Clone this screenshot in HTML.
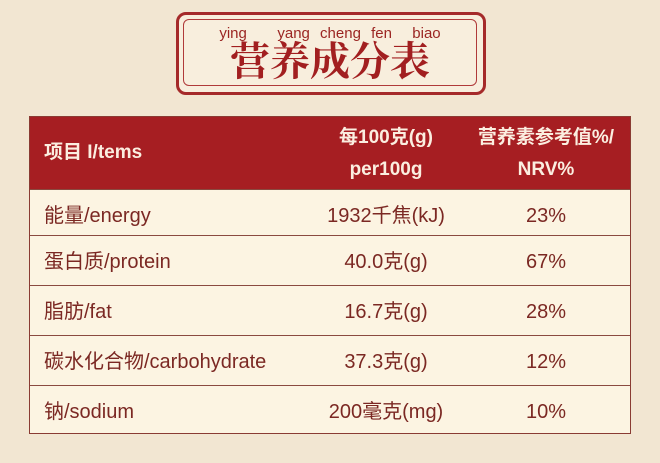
<!DOCTYPE html>
<html><head><meta charset="utf-8"><style>
body{margin:0;width:660px;height:463px;overflow:hidden;background:#f2e6d2;position:relative;font-family:"Liberation Sans","Noto Sans CJK SC",sans-serif}
.frame{position:absolute;left:176px;top:12px;width:304px;height:77px;border:3px solid #a52a2a;border-radius:10px;background:#f8eedd}
.frame2{position:absolute;left:183px;top:19px;width:292px;height:65px;border:1.5px solid #b03a3a;border-radius:6px}
.py{position:absolute;left:0;width:660px;top:25px;text-align:center;font-size:15px;color:#9b2522;word-spacing:6px}
.tt{position:absolute;left:0;width:660px;top:38px;text-align:center;font-size:40px;line-height:48px;font-weight:bold;color:#a21f20;font-family:"Liberation Serif","Noto Serif CJK SC",serif}
.tbl{position:absolute;left:29px;top:116px;width:600px;height:316px;border:1px solid #8a3b33;background:#fcf4e2}
.hd{position:absolute;left:0;top:0;width:600px;height:72px;background:#a61e22;color:#fbeee0;font-weight:bold;font-size:19px}
.row{position:absolute;left:0;width:600px;height:49px;border-top:1px solid #8a4a40;color:#7b2823;font-size:20px;line-height:52px}
.row div{position:absolute;top:0}
.c1{left:14px}
.c2{left:256px;width:200px;text-align:center}
.c3{left:426px;width:180px;text-align:center}
</style></head><body>
<div class="frame"></div><div class="frame2"></div>
<div class="py">ying&nbsp;&nbsp; yang cheng fen&nbsp; biao</div>
<div class="tt">营养成分表</div>
<div class="tbl">
<div class="hd">
<div style="position:absolute;left:14px;top:20px">项目 I/tems</div>
<div style="position:absolute;left:256px;width:200px;text-align:center;top:5px;line-height:32px">每100克(g)<br>per100g</div>
<div style="position:absolute;left:426px;width:180px;text-align:center;top:5px;line-height:32px">营养素参考值%/<br>NRV%</div>
</div>
<div class="row" style="top:72px;height:46px"><div class="c1">能量/energy</div><div class="c2">1932千焦(kJ)</div><div class="c3">23%</div></div>
<div class="row" style="top:118px"><div class="c1">蛋白质/protein</div><div class="c2">40.0克(g)</div><div class="c3">67%</div></div>
<div class="row" style="top:168px"><div class="c1">脂肪/fat</div><div class="c2">16.7克(g)</div><div class="c3">28%</div></div>
<div class="row" style="top:218px"><div class="c1">碳水化合物/carbohydrate</div><div class="c2">37.3克(g)</div><div class="c3">12%</div></div>
<div class="row" style="top:268px;height:48px"><div class="c1">钠/sodium</div><div class="c2">200毫克(mg)</div><div class="c3">10%</div></div>
</div>
</body></html>
